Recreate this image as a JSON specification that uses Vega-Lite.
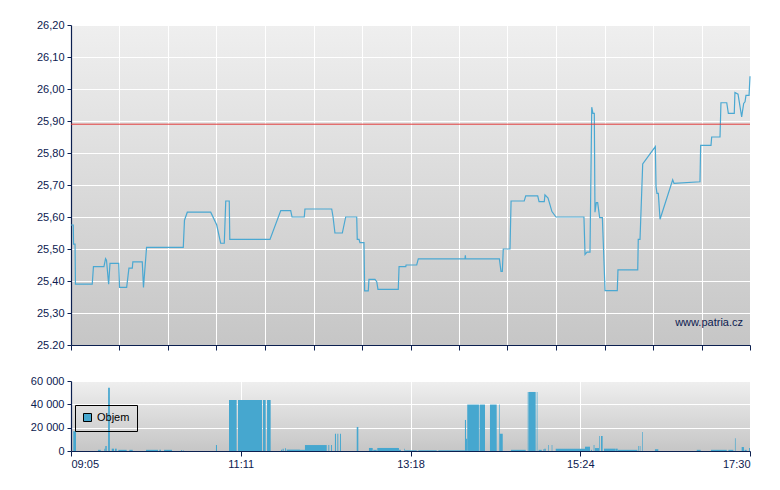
{
  "$schema": "https://vega.github.io/schema/vega-lite/v6.json",
  "background": "white",
  "padding": {"left": 30, "top": 19, "right": 20, "bottom": 10},
  "spacing": 24,
  "config": {
    "view": {"stroke": null, "fill": {"gradient": "linear", "x1": 0, "y1": 0, "x2": 0, "y2": 1, "stops": [{"offset": 0, "color": "#efefef"}, {"offset": 1, "color": "#c6c6c6"}]}},
    "axis": {"labelFont": "Liberation Sans", "labelFontSize": 11, "labelColor": "#0c2050", "domainColor": "#0c2050", "domainWidth": 1.2, "tickColor": "#0c2050", "gridColor": "#ffffff", "gridWidth": 1, "gridOpacity": 1, "title": null, "labelPadding": 3, "labelOverlap": false},
    "legend": {"labelFont": "Liberation Sans", "labelFontSize": 11, "labelColor": "#000000"}
  },
  "datasets": {
    "price": [
      {"min": 545.0, "price": 25.575}, {"min": 546.7, "price": 25.575}, {"min": 546.9, "price": 25.515}, {"min": 548.0, "price": 25.515},
      {"min": 548.3, "price": 25.39}, {"min": 560.8, "price": 25.39}, {"min": 561.7, "price": 25.445}, {"min": 569.5, "price": 25.445},
      {"min": 570.7, "price": 25.47}, {"min": 571.4, "price": 25.465}, {"min": 573.0, "price": 25.39}, {"min": 574.0, "price": 25.455},
      {"min": 580.5, "price": 25.455}, {"min": 581.1, "price": 25.38}, {"min": 586.4, "price": 25.38}, {"min": 588.1, "price": 25.44},
      {"min": 590.6, "price": 25.44}, {"min": 591.0, "price": 25.46}, {"min": 598.0, "price": 25.46}, {"min": 598.9, "price": 25.38},
      {"min": 601.2, "price": 25.505}, {"min": 628.5, "price": 25.505}, {"min": 629.4, "price": 25.59}, {"min": 631.5, "price": 25.615},
      {"min": 648.9, "price": 25.615}, {"min": 653.4, "price": 25.575}, {"min": 656.3, "price": 25.518}, {"min": 659.0, "price": 25.518},
      {"min": 660.1, "price": 25.65}, {"min": 662.7, "price": 25.65}, {"min": 663.1, "price": 25.53}, {"min": 693.0, "price": 25.53},
      {"min": 701.0, "price": 25.62}, {"min": 708.4, "price": 25.62}, {"min": 709.4, "price": 25.6}, {"min": 718.5, "price": 25.6},
      {"min": 719.0, "price": 25.625}, {"min": 738.9, "price": 25.625}, {"min": 739.9, "price": 25.6}, {"min": 741.3, "price": 25.55},
      {"min": 746.8, "price": 25.55}, {"min": 749.3, "price": 25.6}, {"min": 757.5, "price": 25.6}, {"min": 757.9, "price": 25.53},
      {"min": 759.2, "price": 25.53}, {"min": 759.9, "price": 25.52}, {"min": 762.9, "price": 25.52}, {"min": 763.4, "price": 25.369},
      {"min": 766.1, "price": 25.369}, {"min": 766.6, "price": 25.405}, {"min": 771.1, "price": 25.405}, {"min": 772.4, "price": 25.398},
      {"min": 773.3, "price": 25.374}, {"min": 788.4, "price": 25.374}, {"min": 789.0, "price": 25.445}, {"min": 794.0, "price": 25.445},
      {"min": 794.2, "price": 25.45}, {"min": 802.1, "price": 25.45}, {"min": 803.3, "price": 25.469}, {"min": 838.0, "price": 25.469},
      {"min": 838.3, "price": 25.48}, {"min": 838.5, "price": 25.469}, {"min": 863.6, "price": 25.469}, {"min": 864.8, "price": 25.43},
      {"min": 865.8, "price": 25.43}, {"min": 866.5, "price": 25.5}, {"min": 871.5, "price": 25.5}, {"min": 872.3, "price": 25.65},
      {"min": 882.1, "price": 25.65}, {"min": 883.2, "price": 25.666}, {"min": 892.1, "price": 25.666}, {"min": 893.1, "price": 25.648},
      {"min": 897.0, "price": 25.648}, {"min": 897.5, "price": 25.669}, {"min": 899.8, "price": 25.659}, {"min": 902.7, "price": 25.617},
      {"min": 905.7, "price": 25.6}, {"min": 926.5, "price": 25.6}, {"min": 927.3, "price": 25.483}, {"min": 928.8, "price": 25.49},
      {"min": 931.0, "price": 25.49}, {"min": 932.3, "price": 25.943}, {"min": 933.2, "price": 25.924}, {"min": 934.2, "price": 25.924},
      {"min": 934.7, "price": 25.615}, {"min": 935.7, "price": 25.645}, {"min": 936.7, "price": 25.645}, {"min": 938.2, "price": 25.598},
      {"min": 940.2, "price": 25.598}, {"min": 942.2, "price": 25.37}, {"min": 951.3, "price": 25.37}, {"min": 951.8, "price": 25.435},
      {"min": 966.5, "price": 25.435}, {"min": 966.9, "price": 25.53}, {"min": 968.2, "price": 25.53}, {"min": 970.2, "price": 25.766},
      {"min": 979.6, "price": 25.82}, {"min": 980.1, "price": 25.695}, {"min": 980.8, "price": 25.674}, {"min": 981.8, "price": 25.674},
      {"min": 983.1, "price": 25.593}, {"min": 992.5, "price": 25.716}, {"min": 993.5, "price": 25.705}, {"min": 1012.8, "price": 25.71},
      {"min": 1013.3, "price": 25.824}, {"min": 1021.0, "price": 25.824}, {"min": 1021.5, "price": 25.85}, {"min": 1027.7, "price": 25.85},
      {"min": 1028.4, "price": 25.957}, {"min": 1032.7, "price": 25.957}, {"min": 1033.9, "price": 25.924}, {"min": 1038.3, "price": 25.924},
      {"min": 1038.8, "price": 25.989}, {"min": 1041.1, "price": 25.984}, {"min": 1043.8, "price": 25.913}, {"min": 1045.3, "price": 25.955},
      {"min": 1046.3, "price": 25.96}, {"min": 1047.0, "price": 25.98}, {"min": 1049.3, "price": 25.98}, {"min": 1050.0, "price": 26.04}
    ],
    "volume": [
      {"t": 546.7, "t2": 548.7, "v": 17000}, {"t": 565.1, "t2": 567.1, "v": 1000}, {"t": 569.8, "t2": 570.5, "v": 2000}, {"t": 570.5, "t2": 571.6, "v": 4300},
      {"t": 572.6, "t2": 573.9, "v": 54300}, {"t": 575.3, "t2": 577.0, "v": 2000}, {"t": 577.7, "t2": 579.0, "v": 2000}, {"t": 580.2, "t2": 586.4, "v": 1000},
      {"t": 588.4, "t2": 590.9, "v": 1000}, {"t": 600.8, "t2": 609.7, "v": 1000}, {"t": 610.7, "t2": 611.9, "v": 1000}, {"t": 614.2, "t2": 620.1, "v": 1000},
      {"t": 626.8, "t2": 627.6, "v": 700}, {"t": 628.5, "t2": 629.0, "v": 700}, {"t": 652.8, "t2": 653.6, "v": 5100}, {"t": 662.5, "t2": 668.2, "v": 43700},
      {"t": 669.2, "t2": 687.1, "v": 43700}, {"t": 687.8, "t2": 689.8, "v": 43700}, {"t": 690.8, "t2": 693.5, "v": 43700}, {"t": 701.2, "t2": 702.0, "v": 1000},
      {"t": 702.4, "t2": 703.2, "v": 2000}, {"t": 704.2, "t2": 704.9, "v": 2300}, {"t": 705.4, "t2": 715.3, "v": 1200}, {"t": 715.3, "t2": 719.0, "v": 1000},
      {"t": 719.0, "t2": 735.2, "v": 5100}, {"t": 736.4, "t2": 737.1, "v": 5100}, {"t": 738.4, "t2": 739.1, "v": 5100}, {"t": 741.3, "t2": 742.1, "v": 14800},
      {"t": 743.1, "t2": 743.8, "v": 14800}, {"t": 745.1, "t2": 745.8, "v": 14800}, {"t": 757.5, "t2": 758.7, "v": 20600}, {"t": 766.6, "t2": 769.4, "v": 2600},
      {"t": 769.8, "t2": 772.4, "v": 1000}, {"t": 772.8, "t2": 788.9, "v": 2600}, {"t": 788.9, "t2": 790.4, "v": 1000}, {"t": 792.9, "t2": 793.4, "v": 2000},
      {"t": 793.4, "t2": 802.1, "v": 600}, {"t": 803.3, "t2": 817.0, "v": 600}, {"t": 818.2, "t2": 838.0, "v": 600}, {"t": 838.0, "t2": 838.8, "v": 26600},
      {"t": 838.8, "t2": 839.7, "v": 10500}, {"t": 839.7, "t2": 848.4, "v": 39800}, {"t": 848.9, "t2": 852.9, "v": 39800}, {"t": 856.6, "t2": 861.6, "v": 39800},
      {"t": 863.3, "t2": 863.8, "v": 39800}, {"t": 863.8, "t2": 866.1, "v": 14800}, {"t": 872.2, "t2": 883.2, "v": 1000}, {"t": 884.7, "t2": 885.4, "v": 50600},
      {"t": 885.6, "t2": 890.6, "v": 50600}, {"t": 891.4, "t2": 891.9, "v": 50600}, {"t": 892.8, "t2": 895.1, "v": 1000}, {"t": 896.3, "t2": 896.8, "v": 1500},
      {"t": 897.0, "t2": 898.1, "v": 2000}, {"t": 900.0, "t2": 900.5, "v": 5100}, {"t": 902.5, "t2": 903.0, "v": 5100}, {"t": 905.5, "t2": 927.3, "v": 2000},
      {"t": 927.3, "t2": 931.0, "v": 3700}, {"t": 931.7, "t2": 932.5, "v": 1000}, {"t": 933.7, "t2": 934.3, "v": 5100}, {"t": 934.7, "t2": 937.7, "v": 2500},
      {"t": 937.7, "t2": 938.2, "v": 12900}, {"t": 939.2, "t2": 940.4, "v": 12900}, {"t": 941.4, "t2": 949.6, "v": 2000}, {"t": 949.8, "t2": 951.6, "v": 2000},
      {"t": 951.6, "t2": 966.2, "v": 1000}, {"t": 966.9, "t2": 967.4, "v": 4300}, {"t": 968.0, "t2": 968.5, "v": 4300}, {"t": 969.7, "t2": 970.2, "v": 16300},
      {"t": 979.3, "t2": 981.8, "v": 1500}, {"t": 1010.4, "t2": 1013.3, "v": 1000}, {"t": 1021.0, "t2": 1032.7, "v": 1000}, {"t": 1033.9, "t2": 1037.6, "v": 1000},
      {"t": 1038.8, "t2": 1039.3, "v": 10900}, {"t": 1043.8, "t2": 1045.5, "v": 3400}, {"t": 1046.0, "t2": 1047.5, "v": 1000}, {"t": 1049.3, "t2": 1050.0, "v": 2500}
    ],
    "reference": [{"close": 25.89}]
  },
  "vconcat": [
    {
      "width": 679,
      "height": 320,
      "layer": [
        {
          "data": {"name": "price"},
          "mark": {"type": "line", "color": "#4aa8d2", "strokeWidth": 1.2},
          "encoding": {
            "x": {"field": "min", "type": "quantitative",
              "scale": {"domain": [545, 1050], "nice": false, "zero": false},
              "axis": {"values": [545, 581.07, 617.14, 653.21, 689.29, 725.36, 761.43, 797.5, 833.57, 869.64, 905.71, 941.79, 977.86, 1013.93, 1050], "labels": false, "tickSize": 5, "grid": true}},
            "y": {"field": "price", "type": "quantitative",
              "scale": {"domain": [25.2, 26.2], "nice": false, "zero": false},
              "axis": {"values": [25.2, 25.3, 25.4, 25.5, 25.6, 25.7, 25.8, 25.9, 26.0, 26.1, 26.2], "tickSize": 4, "grid": true,
                "labelExpr": "datum.value == 25.2 ? '25.20' : replace(format(datum.value, '.2f'), '.', ',')"}}
          }
        },
        {
          "data": {"name": "reference"},
          "mark": {"type": "rule", "color": "#e23b3b", "strokeWidth": 1},
          "encoding": {"y": {"field": "close", "type": "quantitative",
            "axis": {"values": [25.2, 25.3, 25.4, 25.5, 25.6, 25.7, 25.8, 25.9, 26.0, 26.1, 26.2], "tickSize": 4, "grid": true,
              "labelExpr": "datum.value == 25.2 ? '25.20' : replace(format(datum.value, '.2f'), '.', ',')"}}}
        },
        {
          "data": {"values": [{}]},
          "mark": {"type": "text", "align": "right", "baseline": "middle", "font": "Liberation Sans", "fontSize": 11, "color": "#0c2050", "text": "www.patria.cz"},
          "encoding": {
            "x": {"datum": 1044.8, "type": "quantitative",
              "axis": {"values": [545, 581.07, 617.14, 653.21, 689.29, 725.36, 761.43, 797.5, 833.57, 869.64, 905.71, 941.79, 977.86, 1013.93, 1050], "labels": false, "tickSize": 5, "grid": true}},
            "y": {"datum": 25.27, "type": "quantitative",
              "axis": {"values": [25.2, 25.3, 25.4, 25.5, 25.6, 25.7, 25.8, 25.9, 26.0, 26.1, 26.2], "tickSize": 4, "grid": true,
                "labelExpr": "datum.value == 25.2 ? '25.20' : replace(format(datum.value, '.2f'), '.', ',')"}}
          }
        }
      ]
    },
    {
      "width": 679,
      "height": 70,
      "data": {"name": "volume"},
      "mark": {"type": "bar"},
      "encoding": {
        "x": {"field": "t", "type": "quantitative",
          "scale": {"domain": [545, 1050], "nice": false, "zero": false},
          "axis": {"values": [545, 671.25, 797.5, 923.75, 1050], "tickSize": 5, "grid": true, "labelPadding": 2,
            "labelExpr": "(floor(round(datum.value)/60) < 10 ? '0' : '') + floor(round(datum.value)/60) + ':' + (round(datum.value) % 60 < 10 ? '0' : '') + (round(datum.value) % 60)"}},
        "x2": {"field": "t2"},
        "y": {"field": "v", "type": "quantitative",
          "scale": {"domain": [0, 60000], "nice": false},
          "axis": {"values": [0, 20000, 40000, 60000], "tickSize": 4, "grid": true,
            "labelExpr": "replace(format(datum.value, ',d'), ',', ' ')"}},
        "y2": {"datum": 0},
        "color": {"datum": "Objem", "type": "nominal",
          "scale": {"domain": ["Objem"], "range": ["#46a7cf"]},
          "legend": {"title": null, "orient": "none", "legendX": 4, "legendY": 380, "strokeColor": "#000000", "padding": 7,
            "symbolType": "square", "symbolSize": 64, "labelOffset": 4,
            "encode": {"symbols": {"update": {"stroke": {"value": "#000000"}, "strokeWidth": {"value": 1}}}}}}
      }
    }
  ]
}
